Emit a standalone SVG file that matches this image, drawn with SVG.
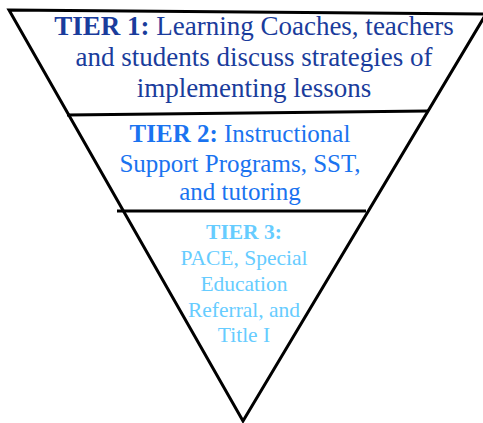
<svg xmlns="http://www.w3.org/2000/svg" width="483" height="423" viewBox="0 0 483 423">
<style>
.ln{stroke:#000;stroke-width:3;fill:none;stroke-linejoin:miter}
text{font-family:"Liberation Serif","Times New Roman",serif;text-anchor:middle}
.t1{fill:#1a3c9c;font-size:27px}
.t2{fill:#1a73f0;font-size:25px}
.t3{fill:#66ccff;font-size:21.5px}
.b{font-weight:bold}
</style>
<rect width="483" height="423" fill="#fff"/>
<g id="connectors">
<path class="ln" d="M9,10 L486,14 L243,421 Z"/>
<path class="ln" d="M67,115 L428,111"/>
<path class="ln" d="M117,211 L366,211"/>
</g>
<g id="tier1">
<text class="t1" x="254" y="35"><tspan class="b">TIER 1:</tspan> Learning Coaches, teachers</text>
<text class="t1" x="254" y="66">and students discuss strategies of</text>
<text class="t1" x="254" y="97">implementing lessons</text>
</g>
<g id="tier2">
<text class="t2" x="240" y="142"><tspan class="b">TIER 2:</tspan> Instructional</text>
<text class="t2" x="240" y="172">Support Programs, SST,</text>
<text class="t2" x="240" y="200">and tutoring</text>
</g>
<g id="tier3">
<text class="t3 b" x="244" y="239">TIER 3:</text>
<text class="t3" x="244" y="265">PACE, Special</text>
<text class="t3" x="244" y="291">Education</text>
<text class="t3" x="244" y="317">Referral, and</text>
<text class="t3" x="244" y="342">Title I</text>
</g>
</svg>
